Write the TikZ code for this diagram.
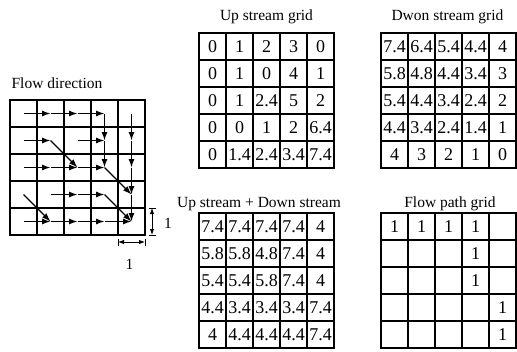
\documentclass[tikz,border=0pt]{standalone}
\usepackage{fontspec}
\setmainfont{Liberation Serif}
\usepackage{tikz}
\usetikzlibrary{arrows.meta}

\begin{document}
\begin{tikzpicture}[x=1pt,y=-1pt,
  cell/.style={draw, line width=1.1pt, minimum size=27pt, inner sep=0pt, outer sep=0pt,
               font=\fontsize{18}{18}\selectfont},
  gridtitle/.style={font=\fontsize{15.5}{18}\selectfont},
  flow/.style={line width=1.2pt, -{Latex[length=8.5pt,width=6pt]}},
  dimline/.style={line width=0.9pt, {Latex[length=6pt,width=4.5pt]}-{Latex[length=6pt,width=4.5pt]}},
  dimtick/.style={line width=0.9pt}]
  \useasboundingbox (0,0) rectangle (517,351);

  % titles
  \node[gridtitle] (flowtitle) at (57,83) {Flow direction};
  \node[gridtitle] (uptitle) at (266.5,17) {Up stream grid};
  \node[gridtitle] (downtitle) at (447.5,17) {Dwon stream grid};
  \node[gridtitle] (sumtitle) at (259,204) {Up stream + Down stream};
  \node[gridtitle] (pathtitle) at (450,204) {Flow path grid};

  % flow direction grid
  \foreach \r in {0,...,4}
    \foreach \c in {0,...,4}
      \node[cell] (f-\r-\c) at (23.5+27*\c,113.5+27*\r) {};
  \foreach \a/\b in {0-0/0-1,0-1/0-2,0-2/0-3,0-3/1-3,0-4/1-4,
                     1-0/1-1,1-1/2-2,1-2/1-3,1-3/2-3,1-4/2-4,
                     2-0/2-1,2-1/2-2,2-2/2-3,2-3/3-4,2-4/3-4,
                     3-0/4-1,3-1/3-2,3-2/3-3,3-3/4-4,3-4/4-4,
                     4-0/4-1,4-1/4-2,4-2/4-3,4-3/4-4}
    \draw[flow] (f-\a.center) -- (f-\b.center);

  % cell size
  \draw[dimline] ([xshift=7pt]f-4-4.north east) -- ([xshift=7pt]f-4-4.south east);
  \draw[dimtick] ([xshift=3.5pt]f-4-4.north east) -- ([xshift=10.5pt]f-4-4.north east);
  \draw[dimtick] ([xshift=3.5pt]f-4-4.south east) -- ([xshift=10.5pt]f-4-4.south east);
  \node[gridtitle] (dimv) at (168,223) {1};
  \draw[dimline] ([yshift=-7pt]f-4-4.south west) -- ([yshift=-7pt]f-4-4.south east);
  \draw[dimtick] ([yshift=-3.5pt]f-4-4.south west) -- ([yshift=-10.5pt]f-4-4.south west);
  \draw[dimtick] ([yshift=-3.5pt]f-4-4.south east) -- ([yshift=-10.5pt]f-4-4.south east);
  \node[gridtitle] (dimh) at (129.5,264) {1};

  % up stream grid
  \foreach \row [count=\r from 0] in {{0,1,2,3,0},{0,1,0,4,1},{0,1,2.4,5,2},
                                     {0,0,1,2,6.4},{0,1.4,2.4,3.4,7.4}}
    \foreach \v [count=\c from 0] in \row
      \node[cell] (u-\r-\c) at (212.5+27*\c,46.5+27*\r) {\v};

  % down stream grid
  \foreach \row [count=\r from 0] in {{7.4,6.4,5.4,4.4,4},{5.8,4.8,4.4,3.4,3},
                                     {5.4,4.4,3.4,2.4,2},{4.4,3.4,2.4,1.4,1},{4,3,2,1,0}}
    \foreach \v [count=\c from 0] in \row
      \node[cell] (d-\r-\c) at (394.5+27*\c,46.5+27*\r) {\v};

  % up stream + down stream
  \foreach \row [count=\r from 0] in {{7.4,7.4,7.4,7.4,4},{5.8,5.8,4.8,7.4,4},
                                     {5.4,5.4,5.8,7.4,4},{4.4,3.4,3.4,3.4,7.4},
                                     {4,4.4,4.4,4.4,7.4}}
    \foreach \v [count=\c from 0] in \row
      \node[cell] (s-\r-\c) at (212.5+27*\c,226.5+27*\r) {\v};

  % flow path grid
  \foreach \row [count=\r from 0] in {{1,1,1,1,{}},{{},{},{},1,{}},{{},{},{},1,{}},
                                     {{},{},{},{},1},{{},{},{},{},1}}
    \foreach \v [count=\c from 0] in \row
      \node[cell] (p-\r-\c) at (394.5+27*\c,226.5+27*\r) {\v};
\end{tikzpicture}
\end{document}
